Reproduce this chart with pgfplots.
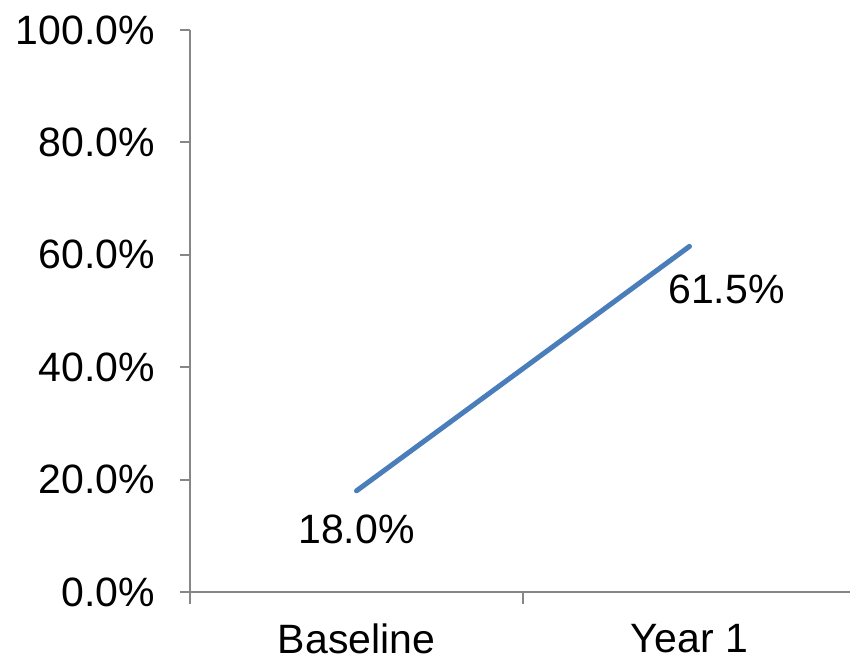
\documentclass[border=0pt]{standalone}
\usepackage{fontspec}
\setmainfont{Liberation Sans}
\usepackage{pgfplots}
\pgfplotsset{compat=1.18}
\definecolor{linec}{HTML}{4A7EBB}
\definecolor{axc}{HTML}{868686}
\begin{document}
\begin{tikzpicture}
\begin{axis}[
  name=ax,
  x=333pt, y=5.62pt,
  xmin=-0.5, xmax=1.5, ymin=0, ymax=100,
  axis lines=left,
  axis line style={-, draw=axc, line width=2pt},
  clip=false,
  font=\fontsize{41}{49}\selectfont,
  tick align=outside,
  major tick length=10pt,
  ytick={0,20,40,60,80,100},
  yticklabels={0.0\%,20.0\%,40.0\%,60.0\%,80.0\%,100.0\%},
  ytick style={draw=axc, line width=2pt},
  yticklabel style={inner sep=0pt, anchor=east, xshift=-25pt},
  xtick={0,1},
  xticklabels={Baseline,Year 1},
  xtick style={draw=none},
  xticklabel style={inner sep=0pt, anchor=north, yshift=-22pt},
  extra x ticks={-0.5,0.5,1.5},
  extra x tick labels={},
  extra x tick style={xtick style={draw=axc, line width=2pt}, major tick length=12pt},
]
\addplot[linec, line width=5pt, line cap=round, mark=none] coordinates {(0,18.0) (1,61.5)};
\addplot[draw=none, mark=none, nodes near coords, point meta=explicit symbolic,
  nodes near coords style={anchor=center, inner sep=0pt, text=black, yshift=-39pt}]
  coordinates {(0,18.0) [18.0\%]};
\addplot[draw=none, mark=none, nodes near coords, point meta=explicit symbolic,
  nodes near coords style={anchor=center, inner sep=0pt, text=black, xshift=37pt, yshift=-43pt}]
  coordinates {(1,61.5) [61.5\%]};
\end{axis}
\pgfresetboundingbox
\path ([xshift=-190pt,yshift=-70pt]ax.south west) rectangle ([xshift=-6pt,yshift=30pt]ax.north east);
\end{tikzpicture}
\end{document}
